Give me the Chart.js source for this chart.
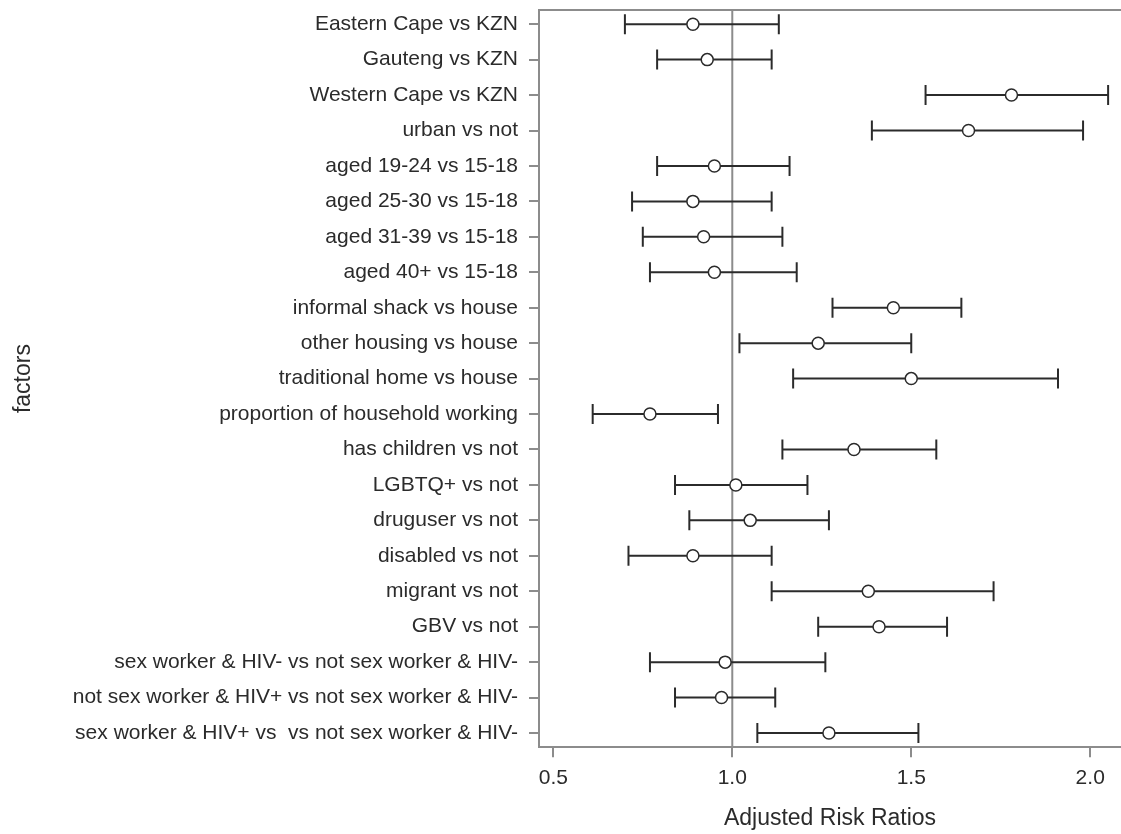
<!DOCTYPE html>
<html>
<head>
<meta charset="utf-8">
<title>Adjusted Risk Ratios</title>
<script src="https://cdn.jsdelivr.net/npm/chart.js@4.4.1/dist/chart.umd.min.js"></script>
<style>
  html, body { margin: 0; padding: 0; background: #fff; }
  #wrap { width: 1121px; height: 834px; position: relative; }
</style>
</head>
<body>
<div id="wrap"><canvas id="forest"></canvas></div>
<script>
/* global Chart */
(function () {
  'use strict';

  const factors = [
    'Eastern Cape vs KZN',
    'Gauteng vs KZN',
    'Western Cape vs KZN',
    'urban vs not',
    'aged 19-24 vs 15-18',
    'aged 25-30 vs 15-18',
    'aged 31-39 vs 15-18',
    'aged 40+ vs 15-18',
    'informal shack vs house',
    'other housing vs house',
    'traditional home vs house',
    'proportion of household working',
    'has children vs not',
    'LGBTQ+ vs not',
    'druguser vs not',
    'disabled vs not',
    'migrant vs not',
    'GBV vs not',
    'sex worker & HIV- vs not sex worker & HIV-',
    'not sex worker & HIV+ vs not sex worker & HIV-',
    'sex worker & HIV+ vs  vs not sex worker & HIV-'
  ];
  const riskRatio = [0.89, 0.93, 1.78, 1.66, 0.95, 0.89, 0.92, 0.95, 1.45, 1.24, 1.50,
    0.77, 1.34, 1.01, 1.05, 0.89, 1.38, 1.41, 0.98, 0.97, 1.27];
  const lowerCI = [0.70, 0.79, 1.54, 1.39, 0.79, 0.72, 0.75, 0.77, 1.28, 1.02, 1.17,
    0.61, 1.14, 0.84, 0.88, 0.71, 1.11, 1.24, 0.77, 0.84, 1.07];
  const upperCI = [1.13, 1.11, 2.05, 1.98, 1.16, 1.11, 1.14, 1.18, 1.64, 1.50, 1.91,
    0.96, 1.57, 1.21, 1.27, 1.11, 1.73, 1.60, 1.26, 1.12, 1.52];
  const xTicks = [0.5, 1.0, 1.5, 2.0];
  const refValue = 1.0;

  const X_MIN = 0.46;
  const X_MAX = 2.086;
  const Y_MIN = -0.4;
  const Y_MAX = factors.length - 1 + 0.4;

  const ink = '#2b2b2b';
  const frame = '#8c8c8c';
  const font = 'Liberation Sans, Arial, sans-serif';

  // one broken line: low -> high for every row, gap in between
  const ciSegments = [];
  factors.forEach(function (f, i) {
    ciSegments.push({ x: lowerCI[i], y: i });
    ciSegments.push({ x: upperCI[i], y: i });
    ciSegments.push({ x: null, y: null });
  });

  const caps = [];
  factors.forEach(function (f, i) {
    caps.push({ x: lowerCI[i], y: i });
    caps.push({ x: upperCI[i], y: i });
  });

  const points = riskRatio.map(function (v, i) {
    return { x: v, y: i };
  });

  // axes are boxed in by hand, so drop the label overhang chart.js reserves
  function noOverhang(axis) {
    axis.paddingTop = 0;
    axis.paddingBottom = 0;
    axis.paddingLeft = 0;
    axis.paddingRight = 0;
  }

  const ctx = document.getElementById('forest').getContext('2d');
  new Chart(ctx, {
    type: 'scatter',
    data: {
      datasets: [
        {
          label: 'reference',
          data: [{ x: refValue, y: Y_MIN }, { x: refValue, y: Y_MAX }],
          showLine: true,
          borderColor: frame,
          borderWidth: 2,
          pointRadius: 0,
          order: 4
        },
        {
          label: 'ci',
          data: ciSegments,
          showLine: true,
          spanGaps: false,
          borderColor: ink,
          borderWidth: 2,
          pointRadius: 0,
          order: 3
        },
        {
          label: 'caps',
          data: caps,
          pointStyle: 'line',
          rotation: 90,
          pointRadius: 10,
          borderColor: ink,
          borderWidth: 2,
          order: 2
        },
        {
          label: 'ARR',
          data: points,
          pointStyle: 'circle',
          pointRadius: 6,
          backgroundColor: '#fff',
          borderColor: ink,
          borderWidth: 1.5,
          order: 1
        }
      ]
    },
    options: {
      responsive: true,
      maintainAspectRatio: false,
      animation: false,
      events: [],
      layout: { autoPadding: false, padding: { top: 10, right: 0, bottom: 0, left: 0 } },
      plugins: {
        legend: { display: false },
        tooltip: { enabled: false }
      },
      scales: {
        x: {
          type: 'linear',
          position: 'bottom',
          min: X_MIN,
          max: X_MAX,
          afterBuildTicks: function (axis) {
            axis.ticks = xTicks.map(function (v) { return { value: v }; });
          },
          afterFit: noOverhang,
          ticks: {
            color: ink,
            padding: 8,
            font: { family: font, size: 21 },
            callback: function (v) { return Number(v).toFixed(1); }
          },
          grid: {
            display: true,
            drawOnChartArea: false,
            drawTicks: true,
            tickLength: 10,
            color: frame,
            lineWidth: 2
          },
          border: { display: true, color: frame, width: 2 },
          title: {
            display: true,
            text: 'Adjusted Risk Ratios',
            color: ink,
            font: { family: font, size: 23 },
            padding: { top: 6, bottom: 2 }
          }
        },
        xTop: {
          type: 'linear',
          position: 'top',
          min: X_MIN,
          max: X_MAX,
          afterFit: noOverhang,
          ticks: { display: false },
          grid: { display: false, drawTicks: false },
          border: { display: true, color: frame, width: 2 }
        },
        y: {
          type: 'linear',
          reverse: true,
          min: Y_MIN,
          max: Y_MAX,
          afterBuildTicks: function (axis) {
            axis.ticks = factors.map(function (f, i) { return { value: i }; });
          },
          afterFit: function (axis) {
            noOverhang(axis);
            axis.width = 539;
          },
          ticks: {
            color: ink,
            padding: 11,
            autoSkip: false,
            font: { family: font, size: 21 },
            callback: function (v) { return factors[v]; }
          },
          grid: {
            display: true,
            drawOnChartArea: false,
            drawTicks: true,
            tickLength: 10,
            color: frame,
            lineWidth: 2
          },
          border: { display: true, color: frame, width: 2 },
          title: {
            display: true,
            text: 'factors',
            color: ink,
            font: { family: font, size: 23 },
            padding: { top: 10, bottom: 0 }
          }
        }
      }
    }
  });
})();
</script>
</body>
</html>
